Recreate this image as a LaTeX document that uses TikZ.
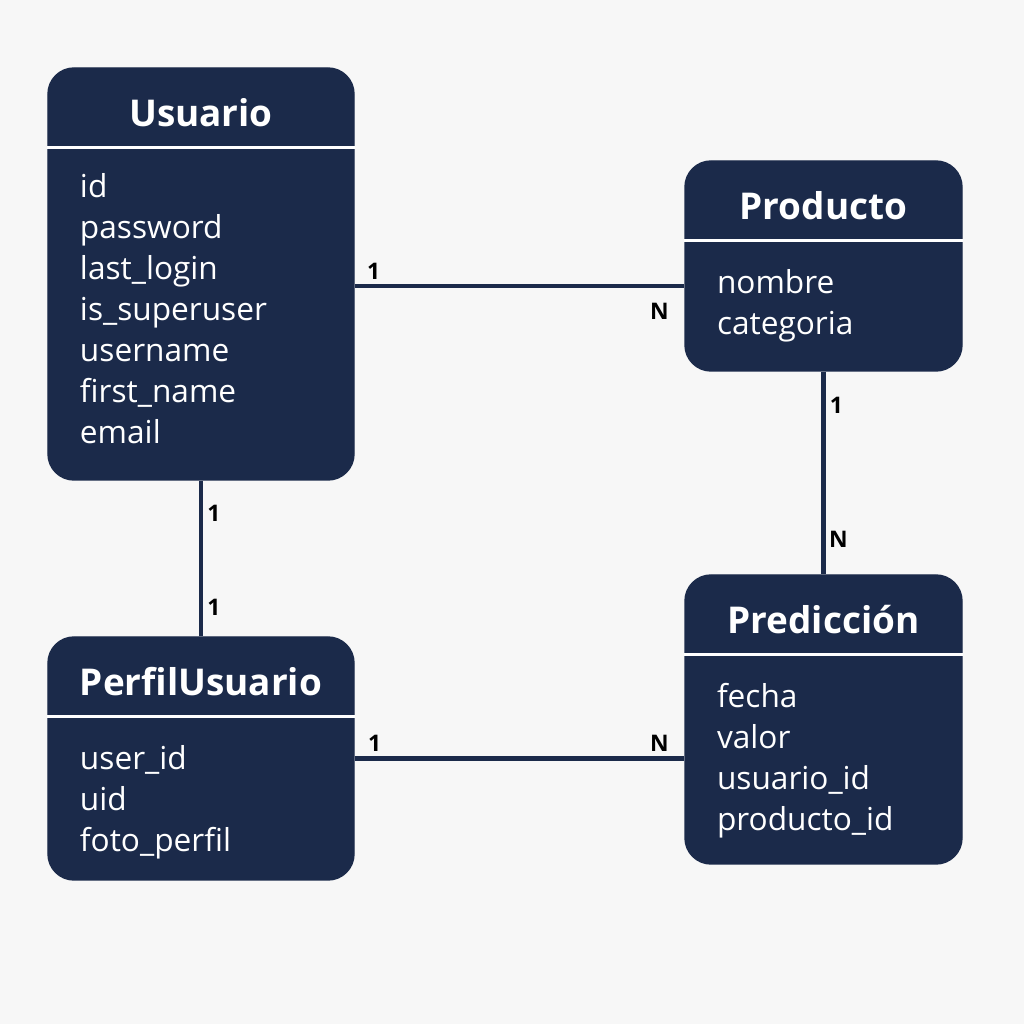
\documentclass[tikz,border=0pt]{standalone}
\usepackage{fontspec}
\setmainfont{Open Sans}
\usepackage{xcolor}
\definecolor{navy}{RGB}{27,42,74}
\definecolor{paper}{RGB}{247,247,247}
\usepackage{tikz}
\usetikzlibrary{positioning}

\tikzset{
  entity/.style={fill=navy, draw=navy, rounded corners=0.26cm, inner sep=0pt},
  title/.style={text=white, font=\fontsize{10.5}{12}\selectfont\bfseries, anchor=base},
  field/.style={text=white, font=\fontsize{9}{11}\selectfont, anchor=base west, inner sep=0pt},
  divider/.style={white, line width=0.9pt},
  rel/.style={navy, line width=1.2pt},
  card/.style={font=\fontsize{6.5}{7}\selectfont\bfseries, inner sep=0pt}
}

\begin{document}
\begin{tikzpicture}
    \fill[paper] (0,0) rectangle (10.24,10.24);
    \useasboundingbox (0,0) rectangle (10.24,10.24);

    % entities
    \node[entity, minimum width=3.06cm, minimum height=4.12cm] (usuario) at (2.01,7.50) {};
    \node[entity, minimum width=2.77cm, minimum height=2.10cm] (producto) at (8.235,7.58) {};
    \node[entity, minimum width=3.06cm, minimum height=2.43cm] (perfil) at (2.01,2.655) {};
    \node[entity, minimum width=2.77cm, minimum height=2.89cm] (prediccion) at (8.235,3.045) {};

    % titles and dividers
    \foreach \e/\t in {usuario/Usuario, producto/Producto, perfil/PerfilUsuario, prediccion/Predicción} {
        \node[title] (\e-title) at ([yshift=-0.59cm]\e.north) {\t};
        \draw[divider] ([yshift=-0.80cm]\e.north west) -- ([yshift=-0.80cm]\e.north east);
    }

    % fields, 0.41cm apart
    \foreach \f [count=\i] in {id, password, last\_login, is\_superuser, username, first\_name, email}
        \node[field] (usuario-f\i) at ([shift={(0.32,-0.89-0.41*\i)}]usuario.north west) {\f};
    \foreach \f [count=\i] in {nombre, categoria}
        \node[field] (producto-f\i) at ([shift={(0.32,-0.92-0.41*\i)}]producto.north west) {\f};
    \foreach \f [count=\i] in {user\_id, uid, foto\_perfil}
        \node[field] (perfil-f\i) at ([shift={(0.32,-0.92-0.41*\i)}]perfil.north west) {\f};
    \foreach \f [count=\i] in {fecha, valor, usuario\_id, producto\_id}
        \node[field] (prediccion-f\i) at ([shift={(0.32,-0.92-0.41*\i)}]prediccion.north west) {\f};

    % relations
    \draw[rel] (usuario.east |- 0,7.38) coordinate (up-a) -- (producto.west |- 0,7.38) coordinate (up-b);
    \node[card] (up-1) at ([shift={(0.19,0.15)}]up-a) {1};
    \node[card] (up-n) at ([shift={(-0.25,-0.25)}]up-b) {N};

    \draw[rel] (producto.south) -- (prediccion.north);
    \node[card] (pp-1) at ([shift={(0.13,-0.34)}]producto.south) {1};
    \node[card] (pp-n) at ([shift={(0.15,0.35)}]prediccion.north) {N};

    \draw[rel] (usuario.south) -- (perfil.north);
    \node[card] (uf-1) at ([shift={(0.13,-0.33)}]usuario.south) {1};
    \node[card] (uf-2) at ([shift={(0.13,0.29)}]perfil.north) {1};

    \draw[rel] (perfil.east) -- (prediccion.west |- perfil.east) coordinate (fp-b);
    \node[card] (fp-1) at ([shift={(0.20,0.15)}]perfil.east) {1};
    \node[card] (fp-n) at ([shift={(-0.25,0.15)}]fp-b) {N};
\end{tikzpicture}
\end{document}
